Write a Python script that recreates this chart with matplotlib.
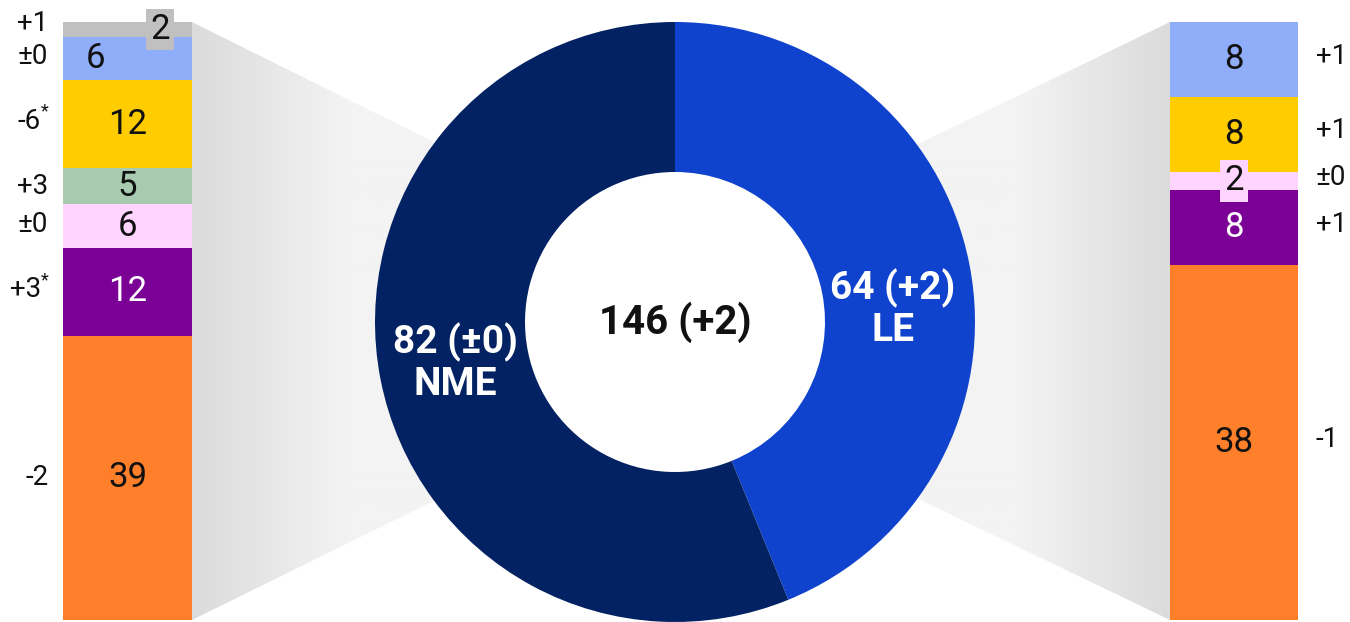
import numpy as np
import matplotlib
matplotlib.use("Agg")
import matplotlib.pyplot as plt
from matplotlib.patches import Polygon, Circle
from matplotlib.colors import to_rgb

plt.rcParams['font.family'] = ['Roboto', 'DejaVu Sans']

# Sitzverteilung: Gesamt, linker und rechter Block
total_label = "146 (+2)"
donut_values = [64, 82]
donut_colors = ['#0f43cd', '#032263']
donut_labels = ["64 (+2)\nLE", "82 (±0)\nNME"]

left_values = [2, 6, 12, 5, 6, 12, 39]
left_colors = ['#c0c0c0', '#8fadf8', '#ffcc00', '#a8cbb0', '#ffd5ff', '#7b0095', '#ff7f2a']
left_changes = ["+1", "±0", "-6", "+3", "±0", "+3", "-2"]
left_star = [False, False, True, False, False, True, False]

right_values = [8, 8, 2, 8, 38]
right_colors = ['#8fadf8', '#ffcc00', '#ffd5ff', '#7b0095', '#ff7f2a']
right_changes = ["+1", "+1", "±0", "+1", "-1"]

W, H = 1350, 622
fig = plt.figure(figsize=(W / 100, H / 100), dpi=100)

# Hintergrund-Achse in Pixelkoordinaten fuer die grauen Verbindungsflaechen
bg = fig.add_axes([0, 0, 1, 1])
bg.set_xlim(0, W)
bg.set_ylim(H, 0)
bg.axis('off')


def gradient_wedge(ax, pts, x_dark, x_light):
    poly = Polygon(pts, closed=True, facecolor='none', edgecolor='none')
    ax.add_patch(poly)
    xs = np.linspace(0, W, 600)
    t = np.clip((xs - x_dark) / (x_light - x_dark), 0, 1)
    c0 = np.array(to_rgb('#dcdbdc'))
    c1 = np.array(to_rgb('#f3f3f3'))
    row = c0[None, :] * (1 - t[:, None]) + c1[None, :] * t[:, None]
    img = np.repeat(row[None, :, :], 2, axis=0)
    im = ax.imshow(img, extent=[0, W, H, 0], aspect='auto', zorder=0,
                   interpolation='bilinear')
    im.set_clip_path(poly)


gradient_wedge(bg, [(192, 22), (192, 620), (675, 382), (675, 262)], 192, 345)
gradient_wedge(bg, [(1170, 22), (1170, 620), (675, 382), (675, 262)], 1170, 1020)
bg.set_xlim(0, W)
bg.set_ylim(H, 0)


def stacked_bar(rect, values, colors):
    ax = fig.add_axes(rect)
    bottoms = np.concatenate([[0], np.cumsum(values)[:-1]])
    ax.bar(0, values, bottom=bottoms, width=1, color=colors, linewidth=0)
    ax.set_xlim(-0.5, 0.5)
    ax.set_ylim(sum(values), 0)
    ax.axis('off')
    return ax, bottoms


TXT = '#111111'
label_kw = dict(fontsize=25, fontweight='normal', ha='center', va='center')
change_kw = dict(fontsize=20, fontweight='normal', va='center', color=TXT)

# linker Balken
axl, lb = stacked_bar([63 / W, 2 / H, 129 / W, 598 / H], left_values, left_colors)
left_x = [0.25, -0.248, 0, 0, 0, 0, 0]
left_dy = [-6, -1.5, -3, 0, -1.5, -2, 0]
for i, (v, b) in enumerate(zip(left_values, lb)):
    y = b + v / 2
    col = 'white' if left_colors[i] == '#7b0095' else TXT
    if i == 0:
        axl.text(0.252, y, str(v), color=col,
                 bbox=dict(boxstyle='square,pad=0.12', fc=left_colors[i], ec='none'),
                 **label_kw)
    else:
        axl.text(left_x[i], y, str(v), color=col, **label_kw)
    tr = axl.get_yaxis_transform()
    yc = y + left_dy[i] * sum(left_values) / 598
    if left_star[i]:
        axl.text(-0.17, yc, left_changes[i], transform=tr, ha='right', **change_kw)
        axl.text(-0.17, yc - 1.3, "*", transform=tr, ha='left', fontsize=13,
                 va='center', color=TXT)
    else:
        axl.text(-0.115, yc, left_changes[i], transform=tr, ha='right', **change_kw)

# rechter Balken
axr, rb = stacked_bar([1170 / W, 2 / H, 128 / W, 598 / H], right_values, right_colors)
for i, (v, b) in enumerate(zip(right_values, rb)):
    y = b + v / 2
    col = 'white' if right_colors[i] == '#7b0095' else TXT
    if v == 2:
        axr.text(0, y, str(v), color=col,
                 bbox=dict(boxstyle='square,pad=0.12', fc=right_colors[i], ec='none'),
                 **label_kw)
    else:
        axr.text(0, y, str(v), color=col, **label_kw)
    axr.text(1.14, y - 0.35, right_changes[i], transform=axr.get_yaxis_transform(),
             ha='left', **change_kw)

# Ring in der Mitte
axd = fig.add_axes([375 / W, 0 / H, 600 / W, 600 / H])
axd.add_patch(Circle((0, 0), 0.5, facecolor='white', edgecolor='none', zorder=0))
axd.pie(donut_values, colors=donut_colors, startangle=90, counterclock=False,
        radius=1, wedgeprops=dict(width=0.5, linewidth=0))
axd.set_xlim(-1, 1)
axd.set_ylim(-1, 1)
axd.set_aspect('equal')
axd.text(0, 0, total_label, ha='center', va='center', fontsize=29,
         fontweight='bold', color=TXT)
axd.text(0.727, 0.045, donut_labels[0], ha='center', va='center', fontsize=28,
         fontweight='bold', color='white', linespacing=1.15)
axd.text(-0.733, -0.135, donut_labels[1], ha='center', va='center', fontsize=28,
         fontweight='bold', color='white', linespacing=1.15)

fig.savefig('out.png', dpi=100, facecolor='white')
